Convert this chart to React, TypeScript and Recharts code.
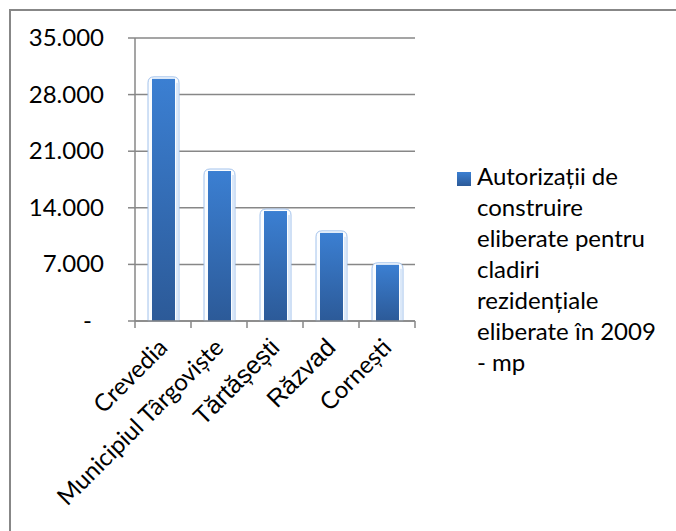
import React from "react";
import { BarChart, Bar, XAxis, YAxis, CartesianGrid, Legend } from "recharts";

const categories = ["Crevedia", "Municipiul Târgoviște", "Tărtășești", "Răzvad", "Cornești"];
const values = [29950, 18550, 13600, 10900, 6950];
const yTicks = [0, 7000, 14000, 21000, 28000, 35000];
const seriesName = "Autorizații de construire eliberate pentru cladiri rezidențiale eliberate în 2009 - mp";
const legendLines = ["Autorizații de", "construire", "eliberate pentru", "cladiri", "rezidențiale", "eliberate în 2009", "- mp"];
const arialLabels = ["Tărtășești", "Răzvad"];

const data = categories.map((c, i) => ({ name: c, value: values[i] }));

const W = 676;
const H = 531;
const MARGIN = { top: 38, right: 261, bottom: 150, left: 0 };
const YW = 135;
const XH = 60;
const PLOT_W = W - MARGIN.left - MARGIN.right - YW;
const BAND = PLOT_W / categories.length;
const GRAY = "#878787";
const CAL = "Lato, 'Noto Sans', sans-serif";
const ARIAL = "'Liberation Sans', Arial, sans-serif";

const fmt = (v: number) => (v === 0 ? "-" : v.toLocaleString("de-DE"));

const YTick = (props: any) => {
  const { x, y, payload } = props;
  const v = payload.value;
  return (
    <text x={v === 0 ? x - 12 : x} y={y} dy={8} textAnchor="end" fontFamily={CAL} fontSize={24} fill="#000">
      {fmt(v)}
    </text>
  );
};

const XTick = (props: any) => {
  const { x, y, payload, index } = props;
  const label = payload.value as string;
  const isArial = arialLabels.includes(label);
  const ax = x + 6;
  const ay = y + 28;
  const left = x - BAND / 2;
  const right = x + BAND / 2;
  return (
    <g>
      <line x1={left} y1={y} x2={left} y2={y + 7} stroke={GRAY} strokeWidth={1.5} />
      {index === categories.length - 1 && (
        <line x1={right} y1={y} x2={right} y2={y + 7} stroke={GRAY} strokeWidth={1.5} />
      )}
      <text
        x={ax}
        y={ay}
        textAnchor="end"
        transform={`rotate(-45, ${ax}, ${ay})`}
        fontFamily={isArial ? ARIAL : CAL}
        fontSize={isArial ? 25 : 24}
        fill="#000"
      >
        {label}
      </text>
    </g>
  );
};

const BarShape = (props: any) => {
  const { x, y, width, height } = props;
  const hx = x - 4;
  const hw = width + 8;
  const hy = y - 2;
  const r = 6;
  const bottom = y + height;
  const halo = `M${hx},${bottom} L${hx},${hy + r} Q${hx},${hy} ${hx + r},${hy} L${hx + hw - r},${hy} Q${hx + hw},${hy} ${hx + hw},${hy + r} L${hx + hw},${bottom} Z`;
  return (
    <g>
      <path d={halo} fill="#fbfdff" stroke="#a2c2ec" strokeWidth={1} />
      <line x1={x + width + 2} y1={y + 4} x2={x + width + 2} y2={bottom} stroke="#bcd4f2" strokeWidth={1} />
      <rect x={x} y={y} width={width} height={height} fill="url(#barGrad)" />
    </g>
  );
};

const LegendContent = () => (
  <div style={{ position: "relative", fontFamily: CAL, fontSize: 24, color: "#000" }}>
    <div
      style={{
        position: "absolute",
        left: 0,
        top: 2,
        width: 14,
        height: 14,
        background: "linear-gradient(#3b7fd2, #2c5a98)",
      }}
    />
    <div style={{ position: "absolute", left: 20, top: -10, lineHeight: "31px", whiteSpace: "nowrap" }}>
      {legendLines.map((l, i) => (
        <div key={i}>{l}</div>
      ))}
    </div>
  </div>
);

export default function App() {
  return (
    <div style={{ position: "absolute", left: 0, top: 0, width: W, height: H, background: "#fff", overflow: "hidden" }}>
      <div
        style={{
          position: "absolute",
          left: 9,
          top: 9,
          width: W,
          height: H,
          borderLeft: `2px solid ${GRAY}`,
          borderTop: `2px solid ${GRAY}`,
        }}
      />
      <div style={{ position: "absolute", left: 0, top: 0 }}>
        <BarChart width={W} height={H} data={data} margin={MARGIN}>
          <defs>
            <linearGradient id="barGrad" x1="0" y1="0" x2="0" y2="1">
              <stop offset="0%" stopColor="#3b7fd2" />
              <stop offset="100%" stopColor="#2c5a98" />
            </linearGradient>
          </defs>
          <CartesianGrid vertical={false} stroke={GRAY} strokeWidth={1.5} />
          <XAxis
            dataKey="name"
            height={XH}
            interval={0}
            tickSize={0}
            tickMargin={0}
            tickLine={false}
            axisLine={{ stroke: GRAY, strokeWidth: 1.5 }}
            tick={<XTick />}
          />
          <YAxis
            width={YW}
            domain={[0, 35000]}
            ticks={yTicks}
            interval={0}
            tickSize={7}
            tickMargin={24}
            tickLine={{ stroke: GRAY, strokeWidth: 1.5 }}
            axisLine={{ stroke: GRAY, strokeWidth: 1.5 }}
            tick={<YTick />}
          />
          <Legend
            layout="horizontal"
            verticalAlign="middle"
            align="center"
            wrapperStyle={{ position: "absolute", left: 457, top: 170, width: 210, height: 220 }}
            content={<LegendContent />}
          />
          <Bar dataKey="value" name={seriesName} barSize={23} isAnimationActive={false} shape={<BarShape />} />
        </BarChart>
      </div>
    </div>
  );
}
